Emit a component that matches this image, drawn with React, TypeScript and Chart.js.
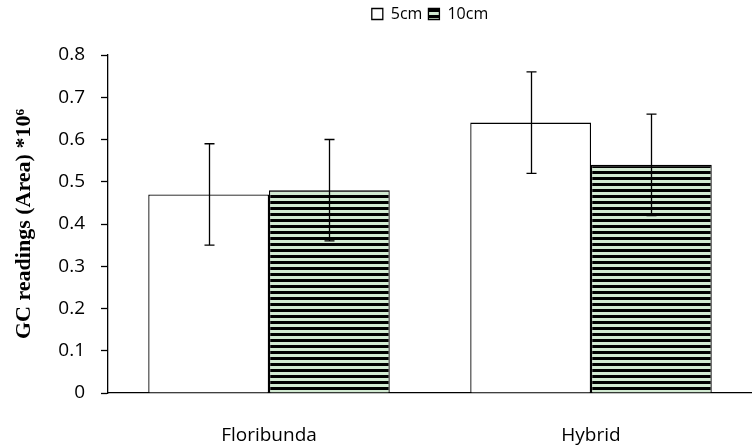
import React, { useEffect, useRef } from "react";
import { Chart, registerables } from "chart.js";

Chart.register(...registerables);

const categories = ["Floribunda", "Hybrid"];
const seriesNames = ["5cm", "10cm"];
const values5cm = [0.47, 0.64];
const values10cm = [0.48, 0.54];
const errors5cm = [0.12, 0.12];
const errors10cm = [0.12, 0.12];
const yTicks = [0, 0.1, 0.2, 0.3, 0.4, 0.5, 0.6, 0.7, 0.8];
const yTitle = "GC readings (Area) *10\u2076";

function makeStripePattern(): CanvasPattern | string {
  const c = document.createElement("canvas");
  c.width = 8;
  c.height = 6;
  const ctx = c.getContext("2d");
  if (!ctx) return "#cfe8cf";
  ctx.fillStyle = "#d2ead2";
  ctx.fillRect(0, 0, 8, 6);
  ctx.fillStyle = "#000000";
  ctx.fillRect(0, 3, 8, 3);
  const p = ctx.createPattern(c, "repeat");
  return p || "#cfe8cf";
}

const errorBarsPlugin = {
  id: "errorBars",
  afterDatasetsDraw(chart: any) {
    const ctx = chart.ctx;
    const yScale = chart.scales.y;
    const errs = [errors5cm, errors10cm];
    const vals = [values5cm, values10cm];
    ctx.save();
    ctx.strokeStyle = "#000";
    ctx.lineWidth = 1.3;
    chart.data.datasets.forEach((_ds: any, di: number) => {
      const meta = chart.getDatasetMeta(di);
      meta.data.forEach((bar: any, i: number) => {
        const v = vals[di][i];
        const e = errs[di][i];
        const x = Math.round(bar.x) + 0.5;
        const yTop = yScale.getPixelForValue(v + e);
        const yBot = yScale.getPixelForValue(v - e);
        ctx.beginPath();
        ctx.moveTo(x, yTop);
        ctx.lineTo(x, yBot);
        ctx.moveTo(x - 5, yTop);
        ctx.lineTo(x + 5, yTop);
        ctx.moveTo(x - 5, yBot);
        ctx.lineTo(x + 5, yBot);
        ctx.stroke();
      });
    });
    ctx.restore();
  },
};

const legendSpacer = {
  id: "legendSpacer",
  beforeInit(chart: any) {
    if (!chart.legend) return;
    const orig = chart.legend.fit;
    chart.legend.fit = function () {
      orig.bind(chart.legend)();
      this.height += 23;
    };
  },
};

export default function App() {
  const ref = useRef<HTMLCanvasElement | null>(null);
  useEffect(() => {
    if (!ref.current) return;
    const pattern = makeStripePattern();
    const chart = new Chart(ref.current, {
      type: "bar",
      data: {
        labels: categories,
        datasets: [
          {
            label: seriesNames[0],
            data: values5cm,
            backgroundColor: "#ffffff",
            borderColor: "#000000",
            borderWidth: 1.3,
            categoryPercentage: 0.75,
            barPercentage: 1,
          },
          {
            label: seriesNames[1],
            data: values10cm,
            backgroundColor: pattern as any,
            borderColor: "#000000",
            borderWidth: 1.3,
            categoryPercentage: 0.75,
            barPercentage: 1,
          },
        ],
      },
      options: {
        responsive: false,
        animation: false,
        layout: { padding: { left: 0, right: 0, top: 0, bottom: 0 } },
        plugins: {
          legend: {
            position: "top",
            fullSize: false,
            labels: {
              boxWidth: 11,
              boxHeight: 11,
              padding: 6,
              color: "#000",
              font: { family: "Open Sans", size: 16 },
            },
          },
          tooltip: { enabled: false },
        },
        scales: {
          x: {
            grid: { display: false, drawTicks: false },
            border: { display: true, color: "#000", width: 1.3 },
            ticks: {
              color: "#000",
              padding: 31,
              font: { family: "Open Sans", size: 19 },
            },
            afterFit(scale: any) {
              scale.height = 54;
            },
          },
          y: {
            min: 0,
            max: 0.8,
            afterBuildTicks(scale: any) {
              scale.ticks = yTicks.map((v) => ({ value: v }));
            },
            grid: {
              drawOnChartArea: false,
              drawTicks: true,
              tickLength: 7,
              tickColor: "#000",
              tickWidth: 1.3,
            },
            border: { display: true, color: "#000", width: 1.3 },
            ticks: {
              color: "#000",
              padding: 16,
              font: { family: "Open Sans", size: 19 },
              callback: (v: any) => (v === 0 ? "0" : Number(v).toFixed(1)),
            },
            title: {
              display: true,
              text: yTitle,
              color: "#000",
              padding: { top: 11, bottom: 0 },
              font: { family: "Liberation Serif", size: 22, weight: "bold" },
            },
            afterFit(scale: any) {
              scale.width = 108;
            },
          },
        },
      },
      plugins: [errorBarsPlugin, legendSpacer],
    });
    return () => chart.destroy();
  }, []);
  return (
    <div style={{ position: "absolute", left: 0, top: 0, width: 752, height: 447, background: "#fff" }}>
      <canvas ref={ref} width={752} height={447} />
    </div>
  );
}
